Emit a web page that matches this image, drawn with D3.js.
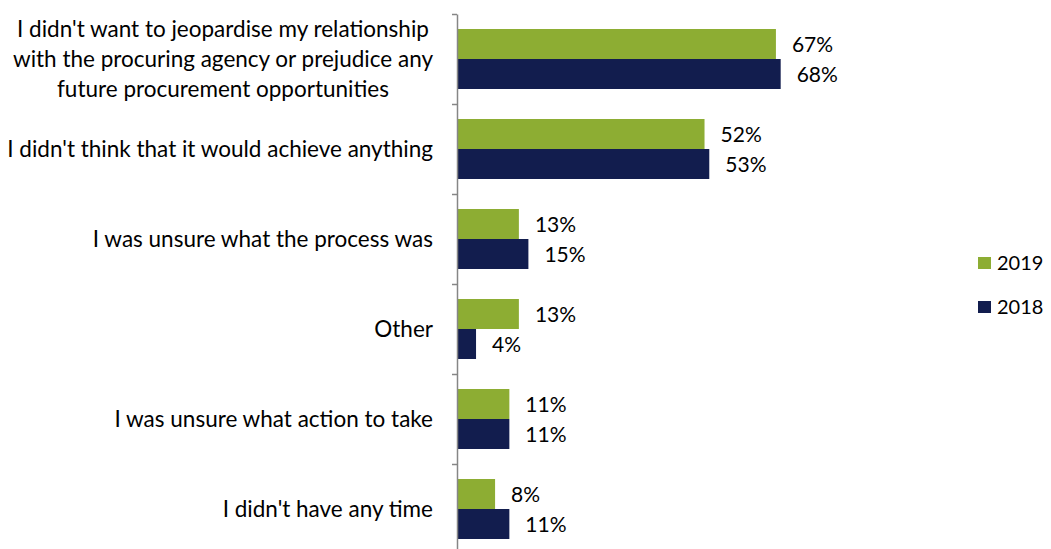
<!DOCTYPE html>
<html>
<head>
<meta charset="utf-8">
<script src="https://cdn.jsdelivr.net/npm/d3@7"></script>
<style>
  html, body { margin: 0; padding: 0; background: #fff; }
  svg { display: block; }
  text { font-family: Lato, "Open Sans", sans-serif; }
</style>
</head>
<body>
<svg id="chart" width="1051" height="549"></svg>
<script>
// Reasons for not raising a complaint, by survey year (%)
const categories = [
  "I didn't want to jeopardise my relationship\nwith the procuring agency or prejudice any\nfuture procurement opportunities",
  "I didn't think that it would achieve anything",
  "I was unsure what the process was",
  "Other",
  "I was unsure what action to take",
  "I didn't have any time"
];
const seriesNames = ["2019", "2018"];
const values2019 = [67, 52, 13, 13, 11, 8];
const values2018 = [68, 53, 15, 4, 11, 11];
const seriesColors = ["#8dad33", "#121d4e"];

const svg = d3.select("#chart");
const axisX = 457;
const plotTop = 14, plotBottom = 554;
const labelRight = 433;

const x = d3.scaleLinear().domain([0, 100]).range([axisX, axisX + 476]);
const y0 = d3.scaleBand().domain(categories).range([plotTop, plotBottom]).padding(0);
const y1 = d3.scaleBand().domain(seriesNames).range([0, y0.bandwidth()])
  .paddingInner(0).paddingOuter(0.5);
const color = d3.scaleOrdinal().domain(seriesNames).range(seriesColors);

const rows = categories.map((c, i) => ({
  category: c,
  values: [
    { series: "2019", value: values2019[i] },
    { series: "2018", value: values2018[i] }
  ]
}));

// Bars and value labels
const groups = svg.append("g").selectAll("g")
  .data(rows).join("g")
  .attr("transform", d => `translate(0,${y0(d.category)})`);

groups.selectAll("rect")
  .data(d => d.values).join("rect")
  .attr("x", x(0))
  .attr("y", d => y1(d.series))
  .attr("width", d => x(d.value) - x(0))
  .attr("height", y1.bandwidth())
  .attr("fill", d => color(d.series));

groups.selectAll("text.value")
  .data(d => d.values).join("text")
  .attr("class", "value")
  .attr("x", d => x(d.value) + 16)
  .attr("y", d => y1(d.series) + y1.bandwidth() / 2)
  .attr("dy", "0.36em")
  .attr("font-size", 21)
  .attr("fill", "#000")
  .text(d => d.value + "%");

// Category axis: tick marks at band boundaries
const tickScale = d3.scaleLinear().domain([0, categories.length]).range([plotTop, plotBottom]);
const axis = svg.append("g")
  .attr("transform", `translate(${axisX},0)`)
  .call(d3.axisLeft(tickScale).ticks(categories.length).tickSize(5).tickSizeOuter(0).tickFormat(""));
axis.select(".domain").attr("stroke", "#868686").attr("stroke-width", 1.5);
axis.selectAll(".tick line").attr("stroke", "#868686").attr("stroke-width", 1.5);

// Category labels: right aligned block, lines centred within the block
const lineHeight = 30;
svg.append("g").selectAll("text")
  .data(categories).join("text")
  .attr("font-size", 22.5)
  .attr("fill", "#000")
  .each(function(d) {
    const lines = d.split("\n");
    const cy = y0(d) + y0.bandwidth() / 2;
    const startY = cy - (lines.length - 1) * lineHeight / 2;
    const t = d3.select(this);
    const spans = t.selectAll("tspan")
      .data(lines).join("tspan")
      .attr("y", (l, i) => startY + i * lineHeight)
      .attr("dy", "0.36em")
      .text(l => l);
    let maxW = 0;
    spans.each(function() { maxW = Math.max(maxW, this.getComputedTextLength()); });
    if (lines.length > 1) {
      t.attr("text-anchor", "middle");
      spans.attr("x", labelRight - maxW / 2);
    } else {
      t.attr("text-anchor", "end");
      spans.attr("x", labelRight);
    }
  });

// Legend
const legend = svg.append("g").selectAll("g")
  .data(seriesNames).join("g")
  .attr("transform", (d, i) => `translate(978,${263 + i * 44})`);
legend.append("rect")
  .attr("x", 0).attr("y", -6)
  .attr("width", 13).attr("height", 12)
  .attr("fill", d => color(d));
legend.append("text")
  .attr("x", 19).attr("y", 0).attr("dy", "0.36em")
  .attr("font-size", 20)
  .attr("fill", "#000")
  .text(d => d);
</script>
</body>
</html>
